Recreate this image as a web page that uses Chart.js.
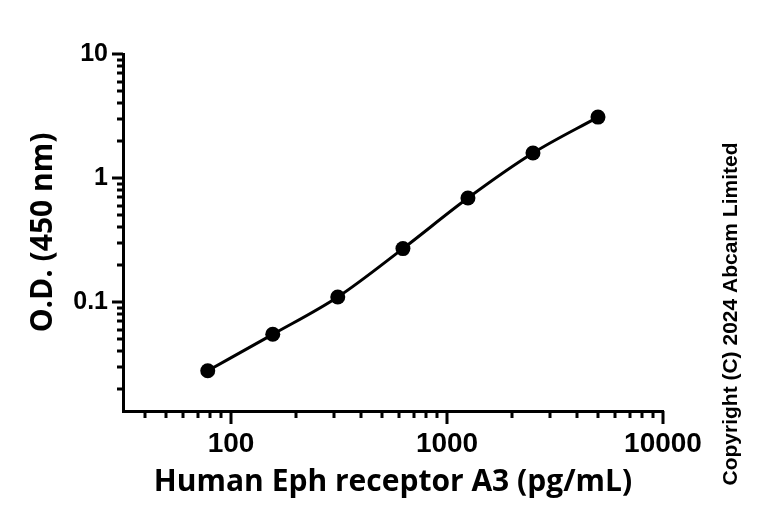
<!DOCTYPE html>
<html>
<head>
<meta charset="utf-8">
<script src="https://cdn.jsdelivr.net/npm/chart.js@4.4.1/dist/chart.umd.min.js"></script>
<style>
  html, body { margin: 0; padding: 0; background: #ffffff; }
</style>
</head>
<body>
<canvas id="curvaElisa" width="768" height="522"></canvas>
<script>
const concentraciones = [78, 156, 312, 625, 1250, 2500, 5000];   // pg/mL
const densidadOptica = [0.028, 0.055, 0.11, 0.27, 0.69, 1.59, 3.1]; // O.D. 450 nm

// Etiquetas de los ejes (solo las décadas llevan texto)
const xEtiquetas = [100, 1000, 10000];
const yEtiquetas = [0.1, 1, 10];
const xRango = [31.6, 10000];
const yRango = [0.01325, 10];

// marcas 1..9 x 10^n dentro del rango
function marcasLog(min, max, mayores) {
    const out = [];
    for (let e = -3; e <= 5; e++) {
        for (let m = 1; m <= 9; m++) {
            const v = parseFloat((m * Math.pow(10, e)).toPrecision(6));
            if (v >= min * 0.999 && v <= max * 1.001) out.push({ value: v, major: mayores.includes(v) });
        }
    }
    return out;
}

const fuenteTicks = "'Liberation Sans Narrow', 'Arial Narrow', 'Liberation Sans', Arial, sans-serif";
const fuenteTitulos = "'Open Sans', Lato, sans-serif";

// dibuja las marcas largas/cortas de los ejes
const marcasEje = {
    id: 'marcasEje',
    afterDraw(chart) {
        const { ctx, chartArea } = chart;
        const x = chart.scales.x, y = chart.scales.y;
        ctx.save();
        ctx.strokeStyle = '#000';
        ctx.lineWidth = 3;
        ctx.beginPath();
        x.ticks.forEach(t => {
            const px = Math.round(x.getPixelForValue(t.value));
            const len = t.major ? 13 : 7;
            ctx.moveTo(px, chartArea.bottom);
            ctx.lineTo(px, chartArea.bottom + len);
        });
        y.ticks.forEach(t => {
            const py = Math.round(y.getPixelForValue(t.value));
            const len = t.major ? 11 : 6;
            ctx.moveTo(chartArea.left, py);
            ctx.lineTo(chartArea.left - len, py);
        });
        ctx.stroke();
        ctx.restore();
    }
};

const copyright = {
    id: 'copyright',
    afterDraw(chart) {
        const ctx = chart.ctx;
        ctx.save();
        ctx.translate(731, 314);
        ctx.rotate(-Math.PI / 2);
        ctx.font = "bold 21px 'Liberation Sans', Arial, sans-serif";
        ctx.fillStyle = '#000';
        ctx.textAlign = 'center';
        ctx.textBaseline = 'middle';
        ctx.fillText('Copyright (C) 2024 Abcam Limited', 0, 0);
        ctx.restore();
    }
};

new Chart(document.getElementById('curvaElisa'), {
    type: 'line',
    data: {
        datasets: [{
            data: concentraciones.map((c, i) => ({ x: c, y: densidadOptica[i] })),
            borderColor: '#000',
            backgroundColor: '#000',
            borderWidth: 3,
            pointRadius: 7.5,
            pointBackgroundColor: '#000',
            pointBorderWidth: 0,
            tension: 0.4,
            cubicInterpolationMode: 'monotone',
            fill: false
        }]
    },
    options: {
        responsive: false,
        animation: false,
        devicePixelRatio: 1,
        layout: { padding: { left: 0, right: 105, top: 54, bottom: 0 } },
        plugins: {
            legend: { display: false },
            tooltip: { enabled: false }
        },
        scales: {
            x: {
                type: 'logarithmic',
                min: xRango[0], max: xRango[1],
                afterBuildTicks: (s) => { s.ticks = marcasLog(xRango[0], xRango[1], xEtiquetas); },
                afterFit: (s) => { s.height = 111; },
                grid: { display: false, drawTicks: false },
                border: { display: true, color: '#000', width: 3 },
                ticks: {
                    autoSkip: false, maxRotation: 0, padding: 16,
                    color: '#000',
                    font: { family: fuenteTicks, size: 28, weight: 'bold' },
                    callback: (v) => xEtiquetas.includes(v) ? String(v) : ''
                },
                title: {
                    display: true,
                    text: 'Human Eph receptor A3 (pg/mL)',
                    color: '#000',
                    font: { family: fuenteTitulos, size: 30, weight: 'bold' },
                    padding: { top: 0, bottom: 22 }
                }
            },
            y: {
                type: 'logarithmic',
                min: yRango[0], max: yRango[1],
                afterBuildTicks: (s) => { s.ticks = marcasLog(yRango[0], yRango[1], yEtiquetas); },
                afterFit: (s) => { s.width = 123; },
                grid: { display: false, drawTicks: false },
                border: { display: true, color: '#000', width: 3 },
                ticks: {
                    autoSkip: false, padding: 15,
                    color: '#000',
                    font: { family: fuenteTicks, size: 25, weight: 'bold' },
                    callback: (v) => yEtiquetas.includes(v) ? String(v) : ''
                },
                title: {
                    display: true,
                    text: 'O.D. (450 nm)',
                    color: '#000',
                    font: { family: fuenteTitulos, size: 30, weight: 'bold' },
                    padding: { top: 25, bottom: 0 }
                }
            }
        }
    },
    plugins: [marcasEje, copyright]
});
</script>
</body>
</html>
